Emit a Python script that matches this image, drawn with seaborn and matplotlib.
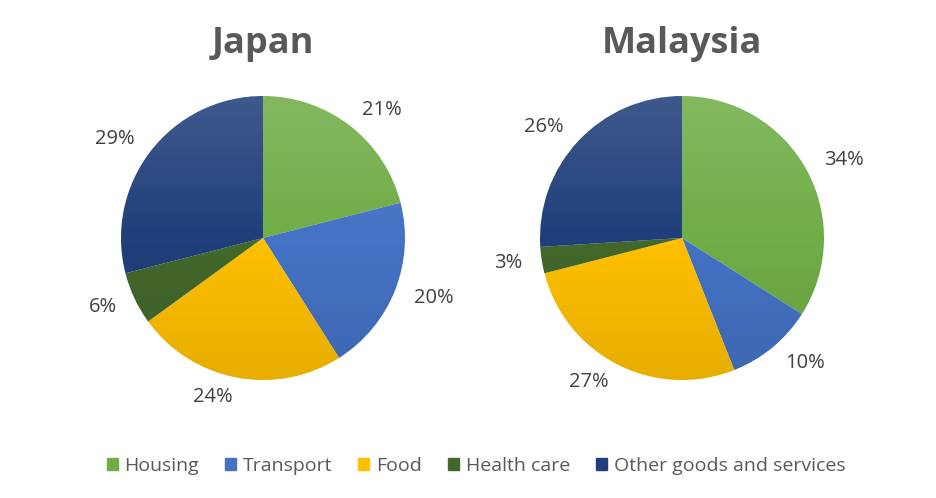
import numpy as np
import matplotlib
matplotlib.use("Agg")
import matplotlib.pyplot as plt
import matplotlib.patches as mpatches
from matplotlib.patches import Circle
import seaborn as sns

categories = ["Housing", "Transport", "Food", "Health care", "Other goods and services"]
japan = [21, 20, 24, 6, 29]
malaysia = [34, 10, 27, 3, 26]
countries = ["Japan", "Malaysia"]
colors = ["#70AD47", "#4472C4", "#FFC000", "#43682B", "#203F7A"]

sns.set_theme(style="white")
plt.rcParams['font.family'] = ['Open Sans', 'DejaVu Sans']

W, H = 936, 498
fig = plt.figure(figsize=(W / 100, H / 100), dpi=100)
fig.patch.set_facecolor("white")

R = 142  # pie radius in px
L = 1.6  # half-extent in data units
size = 2 * L * R
centers = [(263, 238), (682, 238)]

for (cx, cy), name, vals in zip(centers, countries, [japan, malaysia]):
    ax = fig.add_axes([(cx - size / 2) / W, (H - cy - size / 2) / H, size / W, size / H])
    ax.patch.set_alpha(0)
    wedges, texts = ax.pie(vals, colors=colors, startangle=90, counterclock=False,
                           labels=[f"{v}%" for v in vals], labeldistance=1.14,
                           textprops=dict(fontsize=14.5, color="#404040"),
                           wedgeprops=dict(linewidth=0))
    # subtle vertical gradient overlay (lighter top, darker bottom)
    grad = np.zeros((256, 1, 4))
    t = np.linspace(0, 1, 256)
    for i, tt in enumerate(t):
        if tt < 0.5:
            grad[i, 0] = [1, 1, 1, 0.14 * (0.5 - tt) * 2]
        else:
            grad[i, 0] = [0, 0, 0, 0.10 * (tt - 0.5) * 2]
    im = ax.imshow(grad, extent=[-1, 1, -1, 1], aspect="auto", zorder=3, interpolation="bilinear")
    clip = Circle((0, 0), 1, transform=ax.transData)
    im.set_clip_path(clip)
    ax.set_xlim(-L, L)
    ax.set_ylim(-L, L)
    ax.set_aspect("equal")
    ax.axis("off")
    fig.text(cx / W, 1 - 44 / H, name, ha="center", va="center",
             fontsize=26, fontweight="bold", color="#595959")

handles = [mpatches.Patch(color=c, label=l) for c, l in zip(colors, categories)]
fig.legend(handles=handles, loc="center", bbox_to_anchor=(476 / W, 1 - 466 / H), ncol=5,
           frameon=False, fontsize=14, handlelength=0.55, handleheight=0.55,
           handletextpad=0.35, columnspacing=1.35, labelcolor="#595959")

fig.savefig("out.png", dpi=100, facecolor="white")
